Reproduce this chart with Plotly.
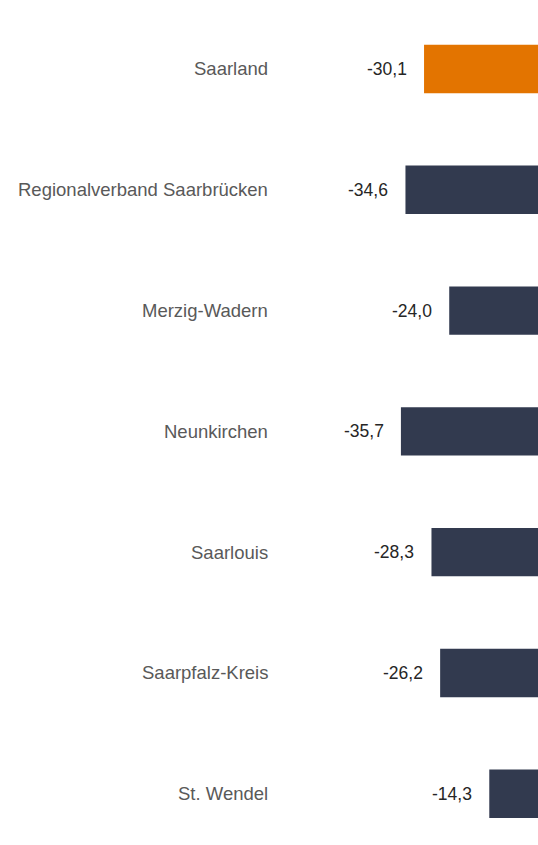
import plotly.graph_objects as go

# Veränderung in Prozent je Kreis
regions = [
    "Saarland",
    "Regionalverband Saarbrücken",
    "Merzig-Wadern",
    "Neunkirchen",
    "Saarlouis",
    "Saarpfalz-Kreis",
    "St. Wendel",
]
values = [-30.1, -34.6, -24.0, -35.7, -28.3, -26.2, -14.3]

ORANGE = "#E37400"
NAVY = "#323A4F"
bar_colors = [ORANGE] + [NAVY] * (len(regions) - 1)

FONT = "Liberation Sans, Arial, sans-serif"


def fmt(v):
    return f"{v:.1f}".replace(".", ",")


fig = go.Figure(
    go.Bar(
        x=values,
        y=regions,
        orientation="h",
        width=0.4,
        marker=dict(color=bar_colors, line=dict(width=0)),
        hoverinfo="skip",
    )
)

annotations = []
for name, v in zip(regions, values):
    # category label on the left
    annotations.append(
        dict(
            x=270 / 538,
            xref="paper",
            y=name,
            yref="y",
            text=name,
            showarrow=False,
            xanchor="right",
            yanchor="middle",
            font=dict(family=FONT, size=18.5, color="#595959"),
        )
    )
    # value label just left of the bar end
    annotations.append(
        dict(
            x=v,
            xref="x",
            y=name,
            yref="y",
            text=fmt(v),
            showarrow=False,
            xanchor="right",
            yanchor="middle",
            xshift=-15,
            font=dict(family=FONT, size=17.5, color="#262626"),
        )
    )

fig.update_layout(
    width=538,
    height=845,
    margin=dict(l=0, r=0, t=0, b=0),
    paper_bgcolor="white",
    plot_bgcolor="white",
    showlegend=False,
    annotations=annotations,
    xaxis=dict(range=[-132.8, -2.5], visible=False, fixedrange=True),
    yaxis=dict(
        type="category",
        categoryorder="array",
        categoryarray=regions,
        range=[6.424, -0.571],
        visible=False,
        fixedrange=True,
    ),
)

fig.write_html("out.html", config={"displayModeBar": False})
